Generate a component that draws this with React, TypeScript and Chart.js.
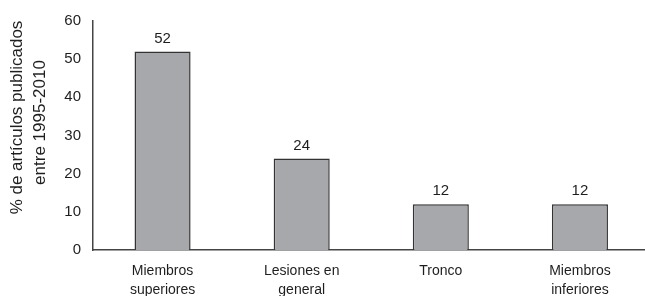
import React, { useEffect, useRef } from "react";
import { Chart, registerables } from "chart.js";

Chart.register(...registerables);

const categories: string[][] = [
  ["Miembros", "superiores"],
  ["Lesiones en", "general"],
  ["Tronco"],
  ["Miembros", "inferiores"],
];
const values: number[] = [52, 24, 12, 12];
const yTitleLines: string[] = ["% de artículos publicados", "entre 1995-2010"];
const yMin = 0;
const yMax = 60;
const yStep = 10;

const FONT = "'Liberation Sans', Arial, Helvetica, sans-serif";

export default function App() {
  const ref = useRef<HTMLCanvasElement | null>(null);

  useEffect(() => {
    if (!ref.current) return;
    const valueLabels = {
      id: "valueLabels",
      afterDatasetsDraw(chart: any) {
        const ctx = chart.ctx;
        const meta = chart.getDatasetMeta(0);
        ctx.save();
        ctx.font = `15px ${FONT}`;
        ctx.fillStyle = "#1e1e1e";
        ctx.textAlign = "center";
        ctx.textBaseline = "middle";
        meta.data.forEach((el: any, i: number) => {
          ctx.fillText(String(values[i]), el.x, el.y - 13);
        });
        ctx.restore();
      },
    };
    const yTitle = {
      id: "yTitle",
      afterDraw(chart: any) {
        const ctx = chart.ctx;
        ctx.save();
        ctx.font = `17px ${FONT}`;
        ctx.fillStyle = "#1e1e1e";
        ctx.textAlign = "center";
        ctx.textBaseline = "middle";
        const pos = [
          [17, 117.5],
          [40, 122.5],
        ];
        yTitleLines.forEach((t, i) => {
          ctx.save();
          ctx.translate(pos[i][0], pos[i][1]);
          ctx.rotate(-Math.PI / 2);
          ctx.fillText(t, 0, 0);
          ctx.restore();
        });
        ctx.restore();
      },
    };
    const chart = new Chart(ref.current, {
      type: "bar",
      data: {
        labels: categories,
        datasets: [
          {
            data: values,
            backgroundColor: "#a7a8ab",
            borderColor: "#333333",
            borderWidth: 1.5,
            barPercentage: 0.403,
            categoryPercentage: 1,
          },
        ],
      },
      options: {
        animation: false,
        responsive: true,
        maintainAspectRatio: false,
        layout: { padding: { top: 20, right: 10.5, left: 0, bottom: 0 } },
        plugins: {
          legend: { display: false },
          tooltip: { enabled: false },
        },
        scales: {
          x: {
            grid: { display: false, drawTicks: false },
            border: { display: true, color: "#444", width: 1.5 },
            ticks: {
              color: "#1e1e1e",
              font: { family: FONT, size: 14, lineHeight: 1.35 },
              padding: 12,
              maxRotation: 0,
              autoSkip: false,
            },
            afterFit(scale: any) {
              scale.height = 46;
            },
          },
          y: {
            min: yMin,
            max: yMax,
            grid: { display: false, drawTicks: false },
            border: { display: true, color: "#444", width: 1.5 },
            ticks: {
              stepSize: yStep,
              color: "#1e1e1e",
              font: { family: FONT, size: 15 },
              padding: 12,
            },
            afterFit(scale: any) {
              scale.width = 93;
            },
          },
        },
      },
      plugins: [valueLabels, yTitle],
    });
    return () => chart.destroy();
  }, []);

  return (
    <div
      style={{
        position: "fixed",
        left: 0,
        top: 0,
        width: 645,
        height: 296,
        overflow: "hidden",
        background: "#fff",
      }}
    >
      <div style={{ position: "relative", width: 660, height: 296 }}>
        <canvas ref={ref} />
      </div>
    </div>
  );
}
